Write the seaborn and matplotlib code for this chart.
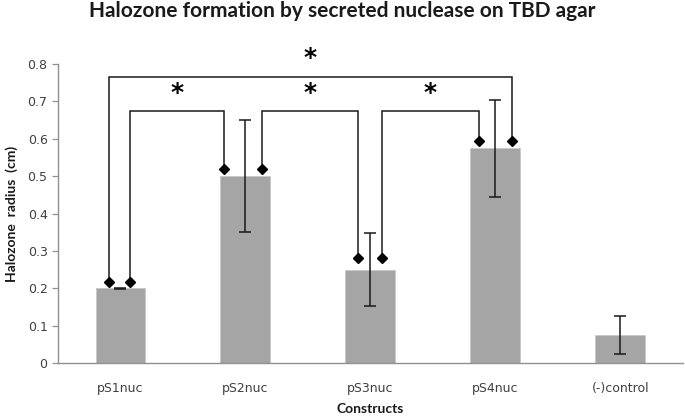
import matplotlib
matplotlib.use("Agg")
import matplotlib.pyplot as plt
import seaborn as sns
import pandas as pd
import numpy as np

categories = ["pS1nuc", "pS2nuc", "pS3nuc", "pS4nuc", "(-)control"]
radius = [0.200, 0.500, 0.250, 0.575, 0.075]
err = [0.002, 0.150, 0.097, 0.130, 0.050]
yticks = [0, 0.1, 0.2, 0.3, 0.4, 0.5, 0.6, 0.7, 0.8]
ytick_labels = ["0", "0.1", "0.2", "0.3", "0.4", "0.5", "0.6", "0.7", "0.8"]

# significance brackets: (left x, left diamond y, right x, right diamond y, top y, star y)
brackets = [
    (-0.09, 0.217, 3.13, 0.594, 0.765, 0.815),
    (0.08, 0.217, 0.83, 0.520, 0.674, 0.722),
    (1.13, 0.520, 1.90, 0.280, 0.674, 0.722),
    (2.09, 0.280, 2.87, 0.594, 0.674, 0.722),
]

sns.set_theme(style="white")
plt.rcParams["font.family"] = ["DejaVu Sans"]

df = pd.DataFrame({"Construct": categories, "Radius": radius})

fig = plt.figure(figsize=(6.85, 4.17), dpi=100)
ax = fig.add_axes([0.0847, 0.1295, 0.912, 0.717])

sns.barplot(data=df, x="Construct", y="Radius", color="#a5a5a5", saturation=1,
            width=0.4, edgecolor="#c8c8c8", linewidth=0.6, ax=ax, errorbar=None)
ax.errorbar(np.arange(len(categories)), radius, yerr=err, fmt="none",
            ecolor="#1a1a1a", elinewidth=1.1, capsize=4, capthick=1.1, zorder=3)

for lx, ly, rx, ry, ty, sy in brackets:
    ax.plot([lx, lx, rx, rx], [ly, ty, ty, ry], color="#1a1a1a", lw=1.1,
            solid_joinstyle="miter", zorder=4)
    ax.plot([lx, rx], [ly, ry], linestyle="none", marker="D", markersize=5.5,
            color="black", zorder=5)
    ax.text((lx + rx) / 2, sy, "*", ha="center", va="center", fontsize=18,
            fontweight="bold", color="black", family="DejaVu Sans")

ax.set_xlim(-0.5, len(categories) - 0.5)
ax.set_ylim(0, 0.8)
ax.set_yticks(yticks)
ax.set_yticklabels(ytick_labels)
ax.set_xticks(np.arange(len(categories)))
ax.set_xticklabels(categories)
ax.set_xticks(np.arange(len(categories) + 1) - 0.5, minor=True)
ax.tick_params(axis="x", which="major", length=0, pad=13.5, labelsize=9, labelcolor="#404040")
ax.tick_params(axis="x", which="minor", length=5, width=0.9, color="#909090", direction="out")
ax.tick_params(axis="y", which="major", length=4, width=0.9, color="#909090", direction="out",
               labelsize=9, labelcolor="#404040", left=True)

for s in ["top", "right"]:
    ax.spines[s].set_visible(False)
for s in ["left", "bottom"]:
    ax.spines[s].set_color("#909090")
    ax.spines[s].set_linewidth(1.0)

ax.set_xlabel("Constructs", fontsize=10, fontweight="bold", family="Lato", labelpad=6, color="#1a1a1a")
ax.set_ylabel("Halozone  radius  (cm)", fontsize=10, fontweight="bold", family="Lato", labelpad=7, color="#1a1a1a")

fig.text(0.5, 0.959, "Halozone formation by secreted nuclease on TBD agar", ha="center",
         va="baseline", fontsize=15, fontweight="bold", family="Lato", color="#1a1a1a")

fig.savefig("out.png", dpi=100)
